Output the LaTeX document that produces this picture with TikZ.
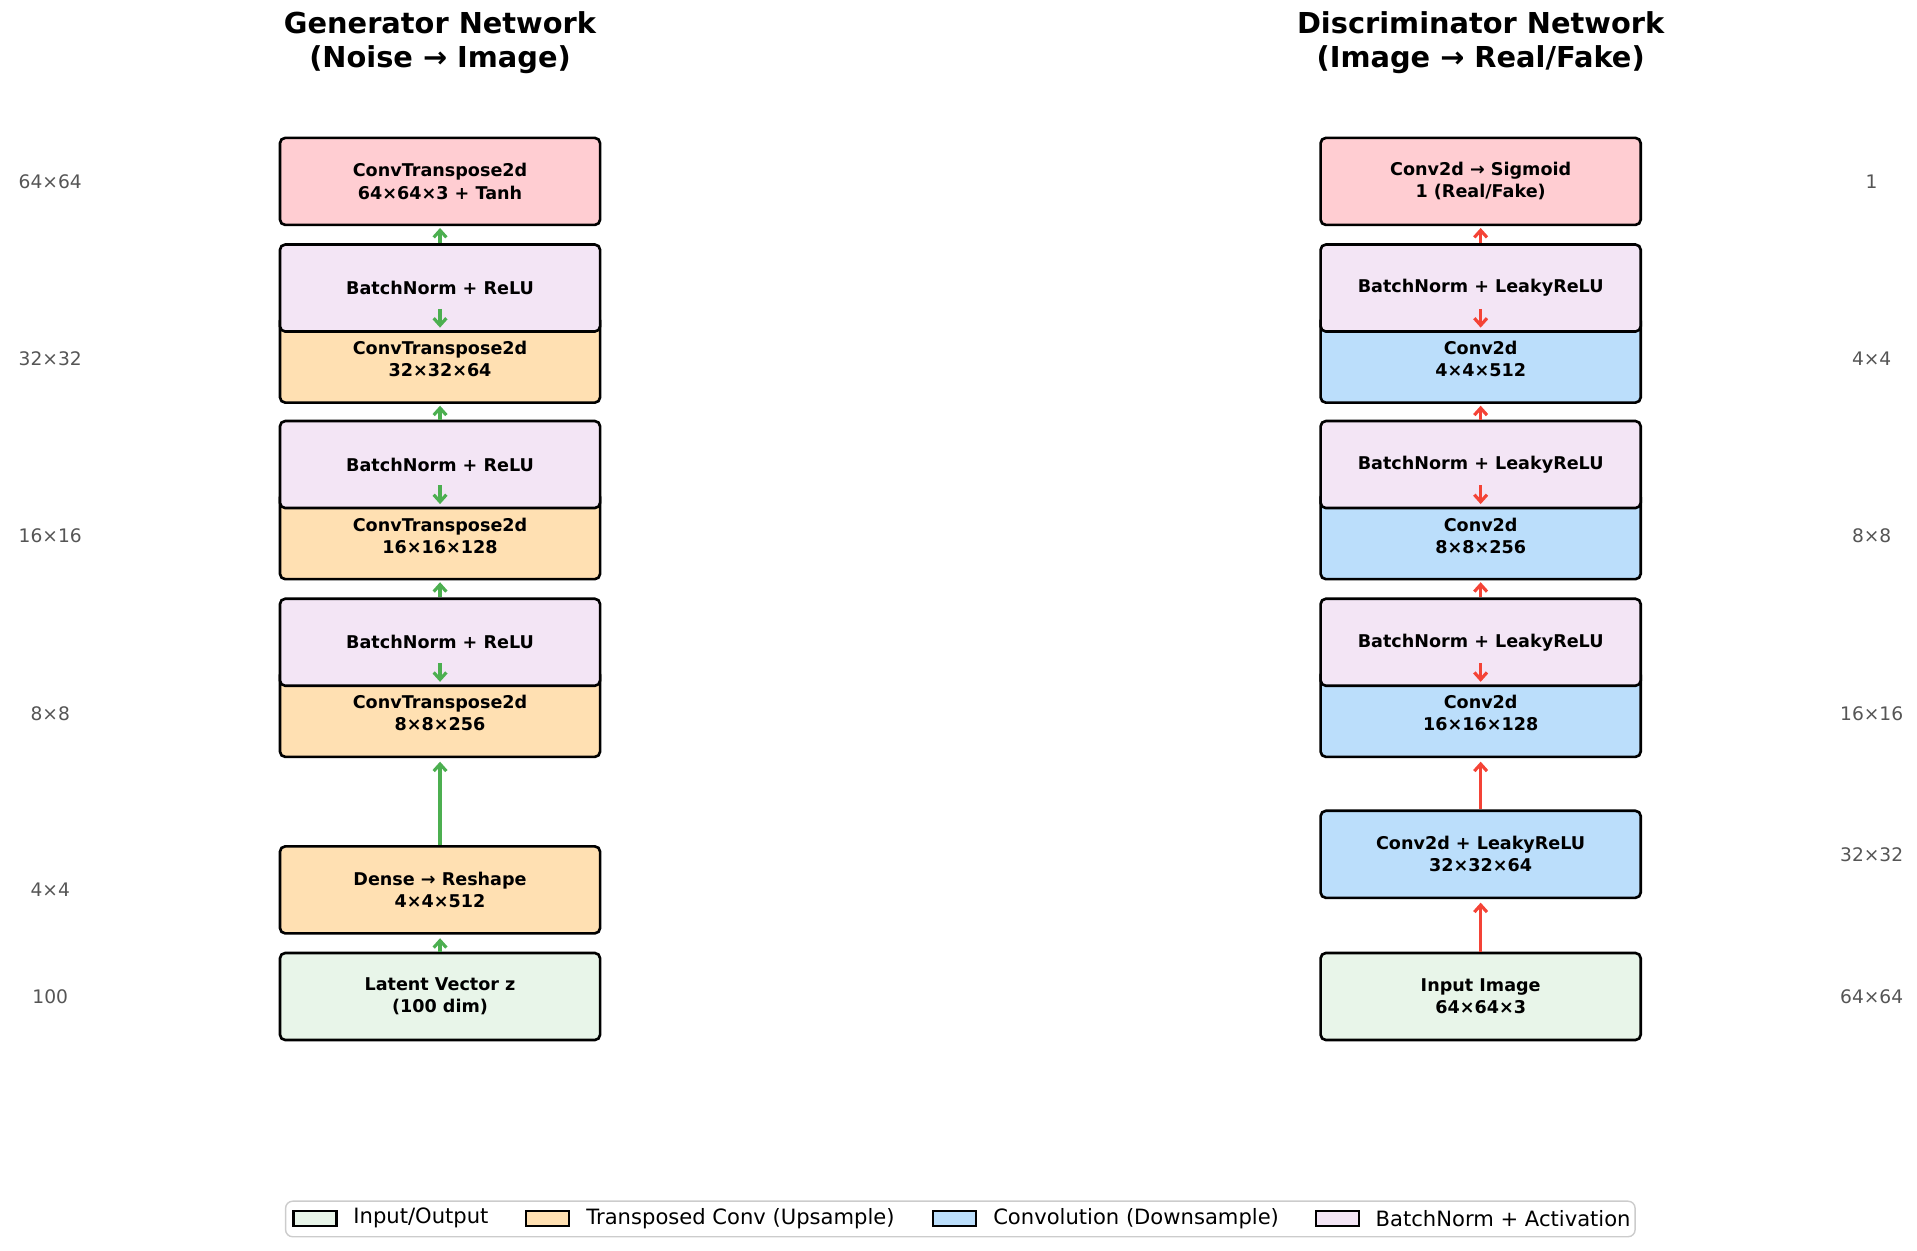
\documentclass[tikz,border=0pt]{standalone}
\usepackage{fontspec}
\setmainfont{DejaVu Sans}
\usetikzlibrary{arrows.meta}
\definecolor{ioFill}{HTML}{E8F5E9}
\definecolor{upFill}{HTML}{FFE0B2}
\definecolor{downFill}{HTML}{BBDEFB}
\definecolor{bnFill}{HTML}{F3E5F5}
\definecolor{outFill}{HTML}{FFCDD2}
\definecolor{genLine}{HTML}{4CAF50}
\definecolor{discLine}{HTML}{F44336}
\definecolor{dimText}{HTML}{555555}
\begin{document}
\begin{tikzpicture}[x=0.01226cm, y=-0.01226cm,
                    layer/.style={rectangle, draw, line width=0.75pt, rounded corners=1.5pt,
                                  minimum width=3.2cm, minimum height=0.87cm, align=center,
                                  font=\fontsize{5pt}{6.3pt}\selectfont\bfseries},
                    dim/.style={text=dimText, font=\fontsize{5.3pt}{7pt}\selectfont},
                    title/.style={align=center, font=\fontsize{8.2pt}{9.8pt}\selectfont\bfseries},
                    gen/.style={-{Straight Barb[length=2pt, width=3.6pt]}, genLine, line width=0.9pt},
                    disc/.style={-{Straight Barb[length=2pt, width=3.6pt]}, discLine, line width=0.9pt},
                    swatch/.style={rectangle, draw, line width=0.6pt, minimum width=0.43cm, minimum height=0.15cm, inner sep=0pt}]
  \useasboundingbox (0, 0) rectangle (1564, 1020);

  % Titles.
  \node at (359, 35) [title, name=GenTitle] {Generator Network\\(Noise → Image)};
  \node at (1208, 35) [title, name=DiscTitle] {Discriminator Network\\(Image → Real/Fake)};

  % Generator layers.
  \node at (359, 813) [layer, fill=ioFill, name=GenInput] {Latent Vector z\\(100 dim)};
  \node at (359, 726) [layer, fill=upFill, name=GenDense] {Dense → Reshape\\4×4×512};
  \node at (359, 582) [layer, fill=upFill, name=GenConvA] {ConvTranspose2d\\8×8×256};
  \node at (359, 437) [layer, fill=upFill, name=GenConvB] {ConvTranspose2d\\16×16×128};
  \node at (359, 293) [layer, fill=upFill, name=GenConvC] {ConvTranspose2d\\32×32×64};
  \node at (359, 524) [layer, fill=bnFill, name=GenNormA] {BatchNorm + ReLU};
  \node at (359, 379) [layer, fill=bnFill, name=GenNormB] {BatchNorm + ReLU};
  \node at (359, 235) [layer, fill=bnFill, name=GenNormC] {BatchNorm + ReLU};
  \node at (359, 148) [layer, fill=outFill, name=GenOutput] {ConvTranspose2d\\64×64×3 + Tanh};

  % Discriminator layers.
  \node at (1208, 813) [layer, fill=ioFill, name=DiscInput] {Input Image\\64×64×3};
  \node at (1208, 697) [layer, fill=downFill, name=DiscConvA] {Conv2d + LeakyReLU\\32×32×64};
  \node at (1208, 582) [layer, fill=downFill, name=DiscConvB] {Conv2d\\16×16×128};
  \node at (1208, 437) [layer, fill=downFill, name=DiscConvC] {Conv2d\\8×8×256};
  \node at (1208, 293) [layer, fill=downFill, name=DiscConvD] {Conv2d\\4×4×512};
  \node at (1208, 524) [layer, fill=bnFill, name=DiscNormA] {BatchNorm + LeakyReLU};
  \node at (1208, 379) [layer, fill=bnFill, name=DiscNormB] {BatchNorm + LeakyReLU};
  \node at (1208, 235) [layer, fill=bnFill, name=DiscNormC] {BatchNorm + LeakyReLU};
  \node at (1208, 148) [layer, fill=outFill, name=DiscOutput] {Conv2d → Sigmoid\\1 (Real/Fake)};

  % Spatial sizes.
  \foreach \y/\g/\d in {148/64×64/1, 293/32×32/4×4, 437/16×16/8×8, 582/8×8/16×16, 813/100/64×64} {
    \node at (41, \y) [dim] {\g};
    \node at (1527, \y) [dim] {\d};
  }
  \node at (41, 726) [dim, name=GenDim] {4×4};
  \node at (1527, 697) [dim, name=DiscDim] {32×32};

  % Small arrows inside the normalisation blocks.
  \coordinate (gA) at (359, 541);
  \coordinate (gB) at (359, 396);
  \coordinate (gC) at (359, 252);
  \coordinate (dA) at (1208, 541);
  \coordinate (dB) at (1208, 396);
  \coordinate (dC) at (1208, 252);

  % Generator flow.
  \draw [gen, shorten >=1pt] (GenInput) -- (GenDense);
  \draw [gen, shorten >=1pt] (GenDense) -- (GenConvA);
  \draw [gen, shorten >=1.5pt] (gA) -- (GenNormA.south);
  \draw [gen, shorten >=0.5pt] (GenNormA) -- (GenConvB);
  \draw [gen, shorten >=1.5pt] (gB) -- (GenNormB.south);
  \draw [gen, shorten >=0.5pt] (GenNormB) -- (GenConvC);
  \draw [gen, shorten >=1.5pt] (gC) -- (GenNormC.south);
  \draw [gen, shorten >=0.5pt] (GenNormC) -- (GenOutput);

  % Discriminator flow.
  \draw [disc, shorten >=1pt] (DiscInput) -- (DiscConvA);
  \draw [disc, shorten >=1pt] (DiscConvA) -- (DiscConvB);
  \draw [disc, shorten >=1.5pt] (dA) -- (DiscNormA.south);
  \draw [disc, shorten >=0.5pt] (DiscNormA) -- (DiscConvC);
  \draw [disc, shorten >=1.5pt] (dB) -- (DiscNormB.south);
  \draw [disc, shorten >=0.5pt] (DiscNormB) -- (DiscConvD);
  \draw [disc, shorten >=1.5pt] (dC) -- (DiscNormC.south);
  \draw [disc, shorten >=0.5pt] (DiscNormC) -- (DiscOutput);

  % Legend.
  \draw [draw=black!20, rounded corners=2pt, fill=white] (233, 980) rectangle (1334, 1009);
  \foreach \x/\c/\t in {257/ioFill/{Input/Output}, 447/upFill/{Transposed Conv (Upsample)},
                        779/downFill/{Convolution (Downsample)}, 1091/bnFill/{BatchNorm + Activation}} {
    \node at (\x, 994) [swatch, fill=\c] {};
    \node at (\x, 994) [anchor=west, xshift=0.26cm, font=\fontsize{6pt}{7.5pt}\selectfont] {\t};
  }
\end{tikzpicture}
\end{document}
